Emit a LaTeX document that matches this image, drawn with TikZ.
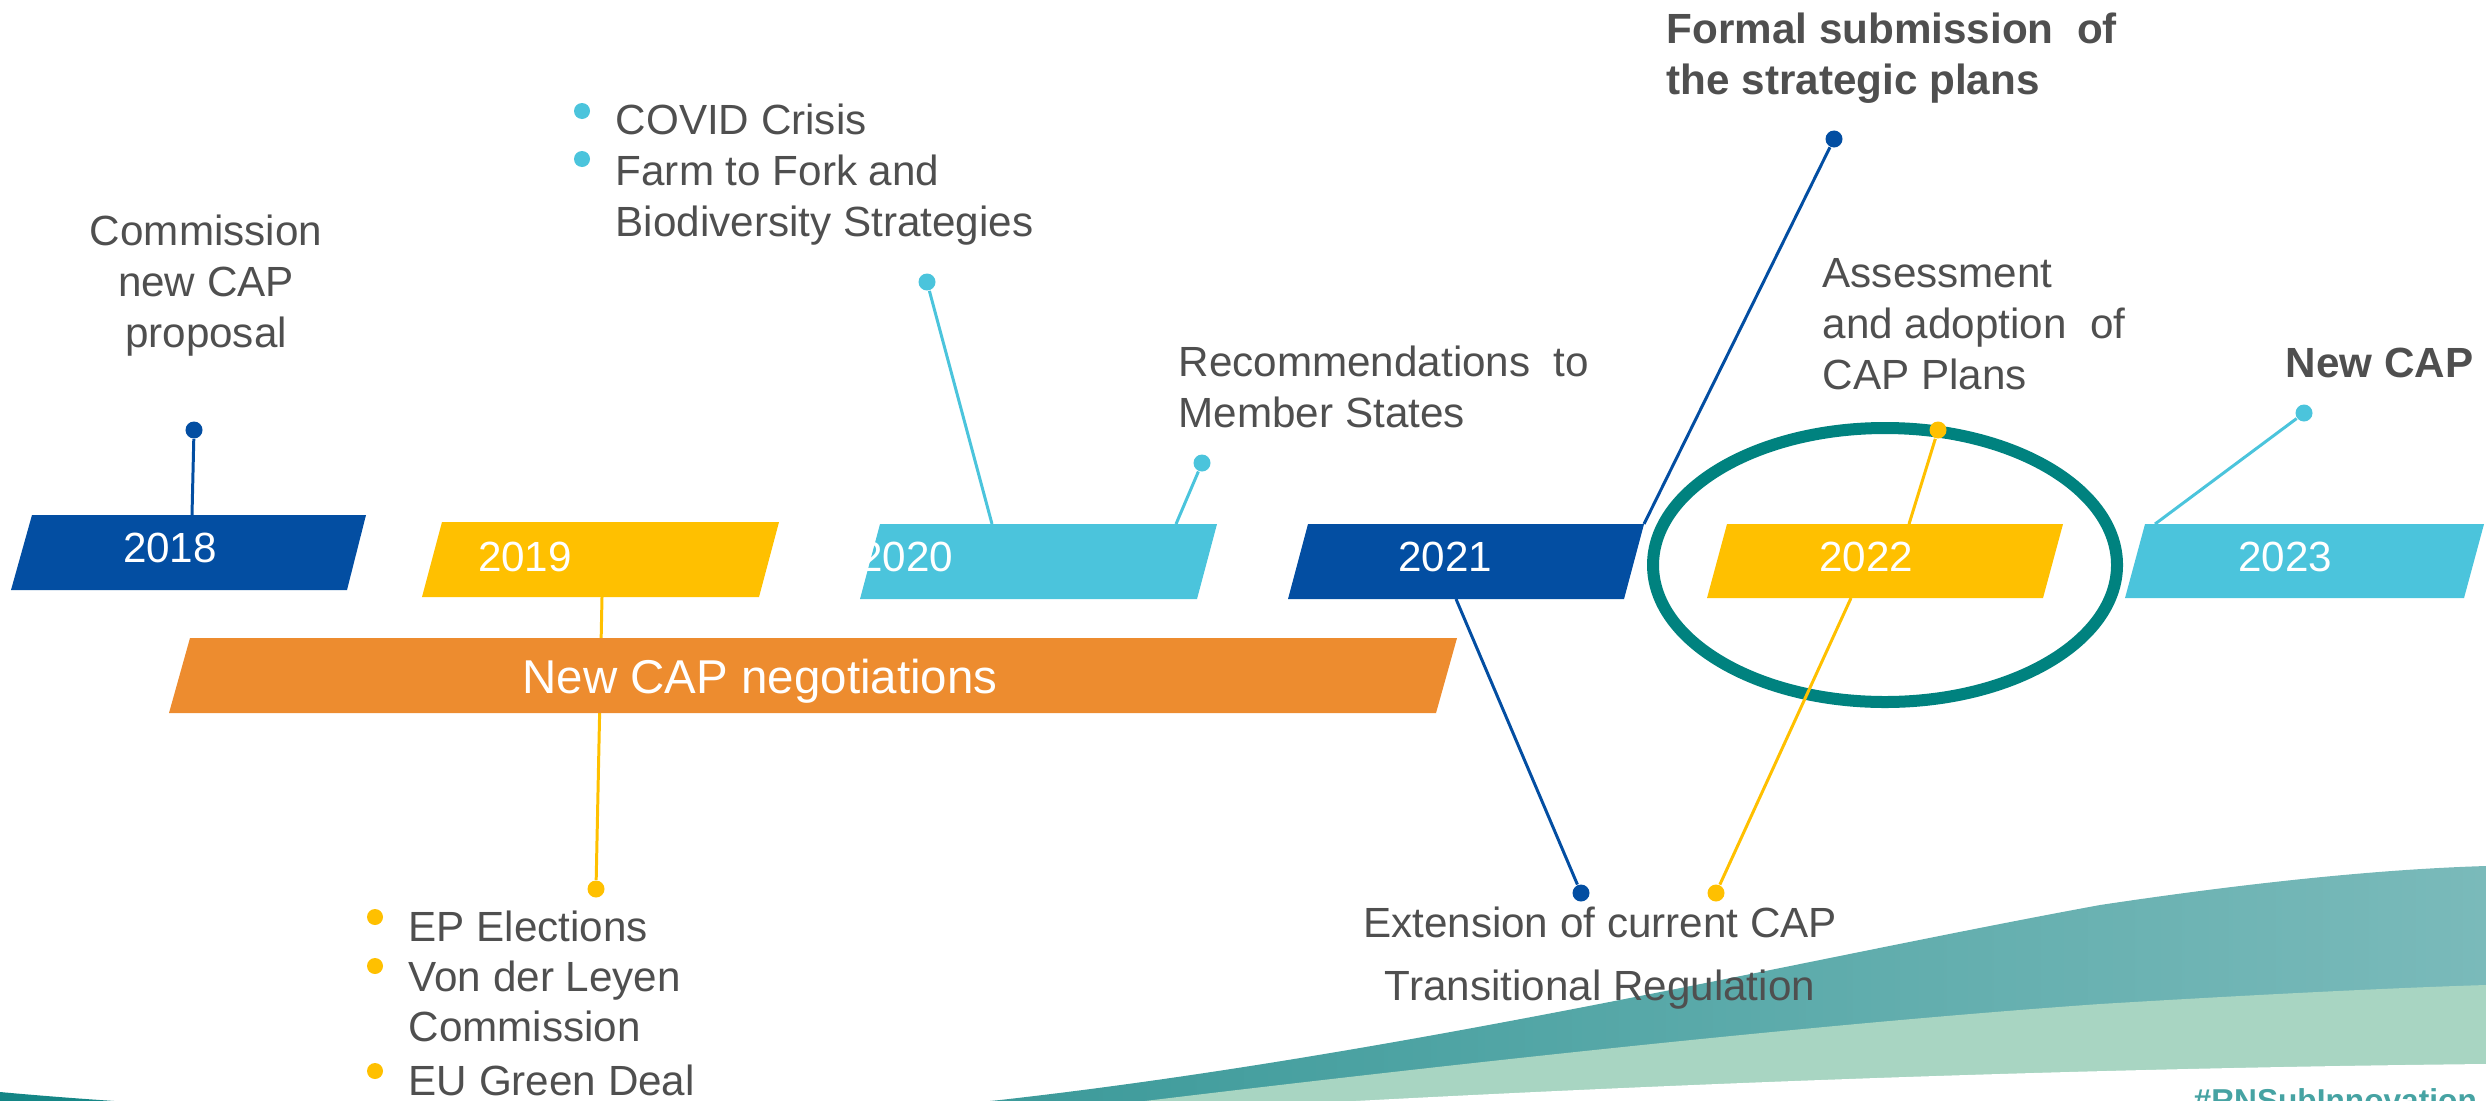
\documentclass[tikz,border=0pt]{standalone}
\usepackage{fontspec}
\setmainfont{Liberation Sans}

\definecolor{capblue}{HTML}{034EA2}
\definecolor{capyellow}{HTML}{FFC000}
\definecolor{capcyan}{HTML}{4BC4DC}
\definecolor{caporange}{HTML}{ED8C2F}
\definecolor{capteal}{HTML}{00827F}
\definecolor{captext}{HTML}{4F4F4F}
\definecolor{wavedark}{HTML}{138585}
\definecolor{wavelight}{HTML}{7ABABA}
\definecolor{wavemint}{HTML}{A8D5C2}
\definecolor{tagteal}{HTML}{46A3A3}

\begin{document}
\begin{tikzpicture}[x=0.01cm,y=-0.01cm,
  dot/.style={circle,inner sep=0pt,minimum size=0.17cm},
  link/.style={line width=0.85pt},
  lbl/.style={inner sep=0pt,text=captext,font=\fontsize{12}{14.5}\selectfont},
  yr/.style={inner sep=0pt,text=white,anchor=base,font=\fontsize{12}{14.5}\selectfont}]

\useasboundingbox (0,0) rectangle (2486,1100);
\clip (0,0) rectangle (2486,1100);

% wave at the bottom
\shade[left color=wavedark,right color=wavelight] (0,1092) .. controls (250,1115) and (700,1130) .. (1000,1100) .. controls (1400,1055) and (1800,960) .. (2100,905) .. controls (2300,875) and (2420,868) .. (2486,866) -- (2486,1110) -- (0,1110) -- cycle;
\fill[wavemint] (1120,1104) .. controls (1400,1070) and (1800,1025) .. (2100,1004) .. controls (2300,992) and (2420,987) .. (2486,985) -- (2486,1110) -- (1120,1110) -- cycle;
\fill[white] (1300,1104) .. controls (1700,1082) and (2100,1068) .. (2486,1064) -- (2486,1110) -- (1300,1110) -- cycle;
\node[anchor=base west,inner sep=0pt,text=tagteal,font=\bfseries\fontsize{9}{10}\selectfont] (tag) at (2193,1111) {\#RNSubInnovation};

% ring round 2022
\draw[capteal,line width=0.12cm] (1885,565) ellipse [x radius=232, y radius=137];

% dots
\node[dot,fill=capblue]   (d18)  at (194,430)  {};
\node[dot,fill=capyellow] (d19)  at (596,889)  {};
\node[dot,fill=capcyan]   (d20a) at (927,282)  {};
\node[dot,fill=capcyan]   (d20b) at (1202,463) {};
\node[dot,fill=capblue]   (d21a) at (1834,139) {};
\node[dot,fill=capblue]   (d21b) at (1581,893) {};
\node[dot,fill=capyellow] (d22a) at (1938,430) {};
\node[dot,fill=capyellow] (d22b) at (1716,893) {};
\node[dot,fill=capcyan]   (d23)  at (2304,413) {};

\coordinate (b18)  at (192,515);
\coordinate (b19)  at (602,597);
\coordinate (b20a) at (992,524);
\coordinate (b20b) at (1176,524);
\coordinate (b21a) at (1644,524);
\coordinate (b21b) at (1456,599);
\coordinate (b22a) at (1909,524);
\coordinate (b22b) at (1851,598);
\coordinate (b23)  at (2155,524);

\draw[link,capblue]   (d18)  -- (b18);
\draw[link,capyellow] (b19)  -- (d19);
\draw[link,capcyan]   (d20a) -- (b20a);
\draw[link,capcyan]   (d20b) -- (b20b);
\draw[link,capblue]   (d21a) -- (b21a);
\draw[link,capblue]   (b21b) -- (d21b);
\draw[link,capyellow] (d22a) -- (b22a);
\draw[link,capyellow] (b22b) -- (d22b);
\draw[link,capcyan]   (d23)  -- (b23);

% year bars
\fill[capblue]   (32,515)   -- (366,515)  -- (347,590)  -- (11,590)   -- cycle;
\fill[capyellow] (442,522)  -- (779,522)  -- (759,597)  -- (422,597)  -- cycle;
\fill[capcyan]   (880,524)  -- (1217,524) -- (1197,599) -- (860,599)  -- cycle;
\fill[capblue]   (1308,524) -- (1644,524) -- (1624,599) -- (1288,599) -- cycle;
\fill[capyellow] (1727,524) -- (2063,524) -- (2043,598) -- (1707,598) -- cycle;
\fill[capcyan]   (2145,524) -- (2484,524) -- (2464,598) -- (2125,598) -- cycle;
\fill[caporange] (190,638)  -- (1457,638) -- (1436,713) -- (169,713)  -- cycle;

\node[yr] (y18) at (170,562)  {2018};
\node[yr] (y19) at (525,571)  {2019};
\node[yr] (y20) at (906,571)  {2020};
\node[yr] (y21) at (1445,571) {2021};
\node[yr] (y22) at (1866,571) {2022};
\node[yr] (y23) at (2285,571) {2023};
\node[yr,font=\fontsize{13.5}{16}\selectfont] (neg) at (760,693) {New CAP negotiations};

% bullets
\fill[capcyan]   (582,111)  circle (8);
\fill[capcyan]   (582,159)  circle (8);
\fill[capyellow] (375,917)  circle (8);
\fill[capyellow] (375,966)  circle (8);
\fill[capyellow] (375,1071) circle (8);

% labels
\node[lbl,anchor=north,align=center] (t18) at (206,214) {Commission\\new CAP\\proposal};
\node[lbl,anchor=north west,align=left] (t20) at (615,103) {COVID Crisis\\Farm to Fork and\\Biodiversity Strategies};
\node[lbl,anchor=north west,align=left] (t20b) at (1178,345) {Recommendations\ \ to\\Member States};
\node[lbl,anchor=north west,align=left,font=\bfseries\fontsize{12}{14.7}\selectfont] (t21) at (1666,12) {Formal submission\ \ of\\the strategic plans};
\node[lbl,anchor=north west,align=left] (t22) at (1822,258) {Assessment\\and adoption\ \ of\\CAP Plans};
\node[lbl,anchor=north west,font=\bfseries\fontsize{12}{14.5}\selectfont] (t23) at (2285,347) {New CAP};
\node[lbl,anchor=north west,align=left,font=\fontsize{12}{14.3}\selectfont] (t19) at (408,910) {EP Elections\\Von der Leyen\\Commission\\[1pt]EU Green Deal};
\node[lbl,anchor=north,align=center] (t21b) at (1600,906) {Extension of current CAP\\[3.5pt]Transitional Regulation};

\end{tikzpicture}
\end{document}
